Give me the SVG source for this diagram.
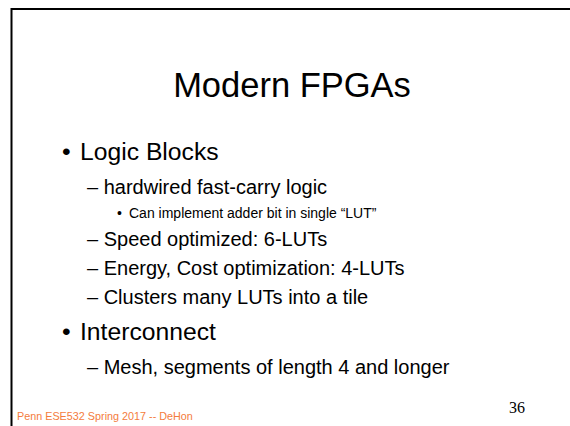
<svg xmlns="http://www.w3.org/2000/svg" width="570" height="426" viewBox="0 0 570 426">
<style>
.t{font-family:"Liberation Sans",Arial,sans-serif;fill:#000}
.l1{font-size:24.7px}
.l2{font-size:20px}
.l3{font-size:14px}
</style>
<rect width="570" height="426" fill="#fff"/>
<path d="M11.5 426V9H570" fill="none" stroke="#000" stroke-width="2"/>
<g id="title"><text class="t" x="292" y="97" font-size="34.5" text-anchor="middle">Modern FPGAs</text></g>
<g id="body">
<text class="t l1" x="62" y="160">•</text>
<text class="t l1" x="80" y="160">Logic Blocks</text>
<text class="t l2" x="87" y="194">– hardwired fast-carry logic</text>
<text class="t l3" x="117" y="218">•</text>
<text class="t l3" x="129" y="218">Can implement adder bit in single “LUT”</text>
<text class="t l2" x="87" y="246">– Speed optimized: 6-LUTs</text>
<text class="t l2" x="87" y="275">– Energy, Cost optimization: 4-LUTs</text>
<text class="t l2" x="87" y="304">– Clusters many LUTs into a tile</text>
<text class="t l1" x="62" y="340">•</text>
<text class="t l1" x="80" y="340">Interconnect</text>
<text class="t l2" x="87" y="374">– Mesh, segments of length 4 and longer</text>
</g>
<g id="footer">
<text x="17" y="420" font-family="Liberation Sans,Arial,sans-serif" font-size="10.8" fill="#f47c3c">Penn ESE532 Spring 2017 -- DeHon</text>
<text x="509" y="413" font-family="Liberation Serif,Times New Roman,serif" font-size="16" fill="#000">36</text>
</g>
</svg>
